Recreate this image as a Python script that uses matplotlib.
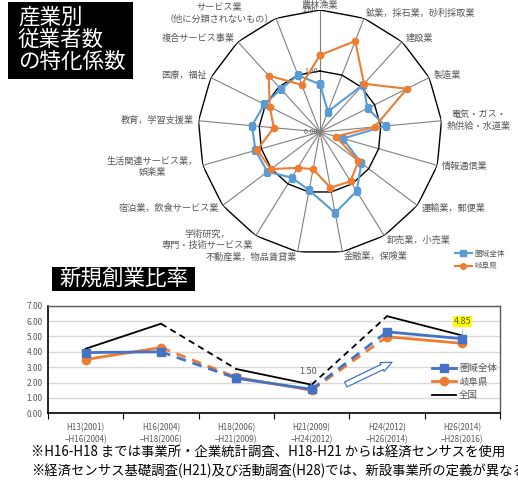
import matplotlib
matplotlib.use("Agg")
import matplotlib.pyplot as plt
import numpy as np
from matplotlib.patches import Rectangle, FancyArrowPatch
from matplotlib.lines import Line2D

plt.rcParams['font.family'] = ['Noto Sans CJK JP', 'DejaVu Sans']

# radar data (特化係数)
industries = ["農林漁業", "鉱業，採石業，砂利採取業", "建設業", "製造業",
              "電気・ガス・\n熱供給・水道業", "情報通信業", "運輸業，郵便業",
              "卸売業，小売業", "金融業，保険業", "不動産業，物品賃貸業",
              "学術研究，\n専門・技術サービス業", "宿泊業，飲食サービス業",
              "生活関連サービス業，\n娯楽業", "教育，学習支援業", "医療，福祉",
              "複合サービス事業", "サービス業\n（他に分類されないもの）"]
area_coef = [0.78, 0.36, 1.05, 0.87, 1.08, 0.39, 0.85, 1.14, 1.35, 0.97,
             0.88, 1.08, 1.10, 1.12, 1.02, 0.95, 1.00]
gifu_coef = [1.26, 1.60, 1.07, 1.59, 0.90, 0.27, 0.79, 0.95, 0.93, 0.62,
             0.69, 1.01, 1.07, 0.76, 0.92, 1.25, 0.83]

# 新規創業比率
periods = ["H13(2001)\n−H16(2004)", "H16(2004)\n−H18(2006)", "H18(2006)\n−H21(2009)",
           "H21(2009)\n−H24(2012)", "H24(2012)\n−H26(2014)", "H26(2014)\n−H28(2016)"]
area_rate = [3.95, 4.00, 2.28, 1.56, 5.30, 4.85]
gifu_rate = [3.50, 4.28, 2.34, 1.50, 4.98, 4.55]
japan_rate = [4.20, 5.83, 2.88, 1.86, 6.32, 5.06]

BLUE_R = "#5B9BD5"
BLUE = "#4472C4"
ORANGE = "#ED7D31"
GRAY = "#595959"

W, H = 518, 483
fig = plt.figure(figsize=(W / 100, H / 100), dpi=100)


def fbox(x0, y0, x1, y1):
    # pixel box (top-left origin) -> figure fraction rect
    return [x0 / W, 1 - y1 / H, (x1 - x0) / W, (y1 - y0) / H]


# ---------------- radar ----------------
cx, cy, rad = 320, 132, 122
ax = fig.add_axes(fbox(cx - rad, cy - rad, cx + rad, cy + rad), projection='polar')
ax.set_theta_zero_location('N')
ax.set_theta_direction(-1)
ax.set_ylim(0, 2.0)
ax.grid(False)
ax.set_xticks([])
ax.set_yticks([])
ax.spines['polar'].set_visible(False)
ax.patch.set_alpha(0)

n = len(industries)
theta = 2 * np.pi * np.arange(n) / n
closed = np.append(theta, theta[0])
for t in theta:
    ax.plot([t, t], [0, 2.0], color="#808080", lw=0.8, zorder=1)
for r in (1.0, 2.0):
    ax.plot(closed, [r] * (n + 1), color="black", lw=1.0, zorder=2)
for r in (0.0, 1.0, 2.0):
    ax.text(-0.03 if r else 0, r, f"{r:.2f}  " if not r else f"{r:.2f}", fontsize=5,
            color=GRAY, ha='right', va='center', zorder=3)

ax.plot(closed, area_coef + area_coef[:1], color=BLUE_R, lw=1.5, marker='s', ms=4.5, zorder=4)
ax.plot(closed, gifu_coef + gifu_coef[:1], color=ORANGE, lw=1.5, marker='o', ms=4.5, zorder=5)

for t, lab in zip(theta, industries):
    s = np.sin(t)
    ha = 'left' if s > 0.15 else ('right' if s < -0.15 else 'center')
    ax.text(t, 2.08, lab, fontsize=6.6, color=GRAY, ha=ha, va='center',
            multialignment='center', linespacing=1.35)

leg1 = fig.legend(handles=[Line2D([], [], color=BLUE_R, marker='s', ms=4, lw=1.5),
                           Line2D([], [], color=ORANGE, marker='o', ms=4, lw=1.5)],
                  labels=["圏域全体", "岐阜県"], loc='center left',
                  bbox_to_anchor=(448 / W, 1 - 260 / H), frameon=False,
                  fontsize=5.5, handlelength=2.2, labelspacing=0.6, handletextpad=0.3)
for t in leg1.get_texts():
    t.set_color(GRAY)

# title boxes
fig.patches.append(Rectangle((8 / W, 1 - 79 / H), 125 / W, 77 / H, transform=fig.transFigure,
                             facecolor='black', edgecolor='none'))
fig.text(18 / W, 1 - 40 / H, "産業別\n従業者数\nの特化係数", color='white', fontsize=15.5,
         ha='left', va='center', linespacing=1.0)
fig.patches.append(Rectangle((52 / W, 1 - 291 / H), 143 / W, 24 / H, transform=fig.transFigure,
                             facecolor='black', edgecolor='none'))
fig.text(124 / W, 1 - 279 / H, "新規創業比率", color='white', fontsize=15.5, ha='center', va='center')

# ---------------- line chart ----------------
ax2 = fig.add_axes(fbox(48, 305.7, 500, 413.3))
x = np.arange(len(periods))
solid = [True, False, True, False, True]
for vals, col, mk in ((japan_rate, "black", None), (gifu_rate, ORANGE, 'o'), (area_rate, BLUE, 's')):
    lw = 1.3 if col == "black" else 2.0
    for i in range(len(x) - 1):
        ax2.plot(x[i:i + 2], vals[i:i + 2], color=col, lw=lw,
                 ls='-' if solid[i] else (0, (3.5, 2.5)), zorder=3)
    if mk:
        ax2.plot(x, vals, ls='none', marker=mk, ms=6, color=col, zorder=4)

ax2.set_xlim(-0.5, len(periods) - 0.5)
ax2.set_ylim(0, 7)
ax2.set_yticks(np.arange(0, 8))
ax2.set_yticklabels([f"{v:.2f}" for v in range(8)], fontsize=6, color=GRAY)
ax2.tick_params(axis='y', length=0, pad=4)
ax2.set_xticks(np.arange(-0.5, len(periods)))
ax2.set_xticklabels([])
ax2.tick_params(axis='x', which='major', length=4, direction='out', color='black')
ax2.set_xticks(x, minor=True)
ax2.set_xticklabels(periods, minor=True, fontsize=5.8, color=GRAY, linespacing=1.4)
ax2.tick_params(axis='x', which='minor', length=0, pad=7)
ax2.grid(axis='y', color="#D9D9D9", lw=1)
ax2.set_axisbelow(True)
for side in ('left', 'bottom'):
    ax2.spines[side].set_color('black')
    ax2.spines[side].set_linewidth(1.2)
for side in ('top', 'right'):
    ax2.spines[side].set_color(GRAY)
    ax2.spines[side].set_linewidth(1.0)

ax2.annotate(f"{gifu_rate[3]:.2f}", xy=(x[3], japan_rate[3] - 0.05), xytext=(x[3] - 0.05, 2.75),
             fontsize=6.5, color=GRAY, ha='center', va='center',
             arrowprops=dict(arrowstyle='-', color="#A6A6A6", lw=0.6, shrinkA=2, shrinkB=0))
ax2.annotate(f"{area_rate[5]:.2f}", xy=(x[5], area_rate[5] + 0.1), xytext=(x[5], 5.95),
             fontsize=6.5, color=GRAY, ha='center', va='center',
             bbox=dict(boxstyle='square,pad=0.1', fc='#FFFF00', ec='none'),
             arrowprops=dict(arrowstyle='-', color="#A6A6A6", lw=0.6, shrinkA=2, shrinkB=0))

ax2.add_patch(FancyArrowPatch((3.42, 1.80), (4.1, 3.4), arrowstyle='simple,head_width=7,head_length=8,tail_width=4',
                              fc='white', ec=BLUE, lw=0.9, mutation_scale=1, zorder=5))

leg2 = ax2.legend(handles=[Line2D([], [], color=BLUE, marker='s', ms=6, lw=2),
                           Line2D([], [], color=ORANGE, marker='o', ms=6, lw=2),
                           Line2D([], [], color='black', lw=1.3)],
                  labels=["圏域全体", "岐阜県", "全国"], loc='center left',
                  bbox_to_anchor=(0.83, 0.29), frameon=False, fontsize=6.8,
                  handlelength=2.6, labelspacing=0.45, handletextpad=0.3)
for t in leg2.get_texts():
    t.set_color(GRAY)

# notes
fig.text(31 / W, 1 - 452 / H, "※H16-H18 までは事業所・企業統計調査、H18-H21 からは経済センサスを使用",
         fontsize=9.6, ha='left', va='center')
fig.text(31 / W, 1 - 471 / H, "※経済センサス基礎調査(H21)及び活動調査(H28)では、新設事業所の定義が異なる",
         fontsize=9.6, ha='left', va='center')

fig.savefig("out.png", dpi=100)
